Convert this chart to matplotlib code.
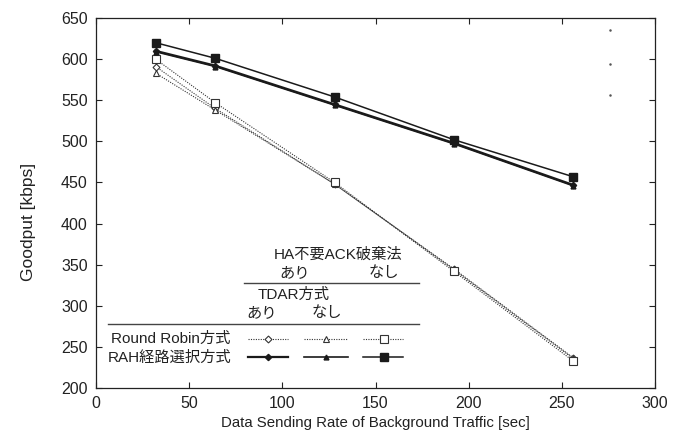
import matplotlib
matplotlib.use("Agg")
import matplotlib.pyplot as plt
from matplotlib.lines import Line2D

plt.rcParams["font.family"] = ["Liberation Sans", "Noto Sans CJK JP", "DejaVu Sans"]

# data
rate = [32, 64, 128, 192, 256]
rr_tdar_on = [591, 540, 448, 345, 237]      # Round Robin, ACK drop on, TDAR on
rr_tdar_off = [583, 538, 448, 344, 236]     # Round Robin, ACK drop on, TDAR off
rr_no_drop = [600, 547, 450, 342, 233]      # Round Robin, ACK drop off
rah_tdar_on = [610, 592, 545, 498, 447]     # RAH, ACK drop on, TDAR on
rah_tdar_off = [609, 591, 544, 497, 446]    # RAH, ACK drop on, TDAR off
rah_no_drop = [620, 601, 554, 502, 457]     # RAH, ACK drop off
stray_x = [276, 276, 276]
stray_y = [636, 594, 556]

W, H = 673, 437
fig = plt.figure(figsize=(W / 100, H / 100), dpi=100)
ax = fig.add_axes([96 / W, 1 - 388 / H, (655 - 96) / W, (388 - 18) / H])

dark = "#1a1a1a"
dotted = dict(color="#333333", lw=0.8, ls=(0, (1, 1.2)))
styles = [
    (rr_tdar_on, dict(dotted, marker="D", ms=3.5, mfc="white", mec="#333333", mew=0.8)),
    (rr_tdar_off, dict(dotted, marker="^", ms=4.5, mfc="white", mec="#333333", mew=0.8)),
    (rr_no_drop, dict(dotted, marker="s", ms=5.5, mfc="white", mec="#333333", mew=0.8)),
    (rah_tdar_off, dict(color=dark, lw=1.2, marker="^", ms=3.5, mfc=dark, mec=dark)),
    (rah_tdar_on, dict(color=dark, lw=1.6, marker="D", ms=3.2, mfc=dark, mec=dark)),
    (rah_no_drop, dict(color=dark, lw=1.1, marker="s", ms=5.5, mfc=dark, mec=dark)),
]
for ys, kw in styles:
    ax.plot(rate, ys, **kw)

ax.plot(stray_x, stray_y, ls="none", marker="o", ms=0.8, color="#555555")

ax.set_xlim(0, 300)
ax.set_ylim(200, 650)
ax.set_xticks(range(0, 301, 50))
ax.set_yticks(range(200, 651, 50))
ax.tick_params(direction="in", length=4, width=0.8, top=True, right=True,
               labelsize=11.5, colors="#222222", pad=6)
for s in ax.spines.values():
    s.set_linewidth(0.9)
    s.set_color("#222222")
ax.set_xlabel("Data Sending Rate of Background Traffic [sec]", fontsize=10.8,
              color="#222222", labelpad=3)


def fpos(x, y):
    return x / W, 1 - y / H


fig.text(*fpos(28, 222), "Goodput [kbps]", rotation=90, ha="center", va="center",
         fontsize=12.5, color="#222222")

# table-style legend drawn in figure pixels
txt = dict(fontsize=11, color="#222222", va="center")
fig.text(*fpos(338, 255), "HA不要ACK破棄法", ha="center", **txt)
fig.text(*fpos(295, 273), "あり", ha="center", **txt)
fig.text(*fpos(384, 273), "なし", ha="center", **txt)
fig.text(*fpos(294, 295), "TDAR方式", ha="center", **txt)
fig.text(*fpos(262, 313), "あり", ha="center", **txt)
fig.text(*fpos(327, 313), "なし", ha="center", **txt)
fig.text(*fpos(230, 339), "Round Robin方式", ha="right", **txt)
fig.text(*fpos(231, 358), "RAH経路選択方式", ha="right", **txt)

for x0, x1, y in [(244, 419, 283), (108, 419, 324)]:
    fig.add_artist(Line2D([x0 / W, x1 / W], [1 - y / H, 1 - y / H],
                          color="#444444", lw=1.0))

cols = [(248, 288, 268), (304, 348, 326), (363, 403, 384)]
for (x0, x1, xc), (_, kw) in zip(cols, styles[:3]):
    fig.add_artist(Line2D([x0 / W, x1 / W], [1 - 339 / H] * 2,
                          **{k: v for k, v in kw.items() if not k.startswith("m")}))
    fig.add_artist(Line2D([xc / W], [1 - 339 / H], ls="none",
                          **{k: v for k, v in kw.items() if k.startswith("m")}))
rah_legend = [styles[4], styles[3], styles[5]]
for (x0, x1, xc), (_, kw) in zip(cols, rah_legend):
    fig.add_artist(Line2D([x0 / W, x1 / W], [1 - 357 / H] * 2,
                          **{k: v for k, v in kw.items() if not k.startswith("m")}))
    fig.add_artist(Line2D([xc / W], [1 - 357 / H], ls="none",
                          **{k: v for k, v in kw.items() if k.startswith("m")}))

fig.savefig("out.png", dpi=100)
